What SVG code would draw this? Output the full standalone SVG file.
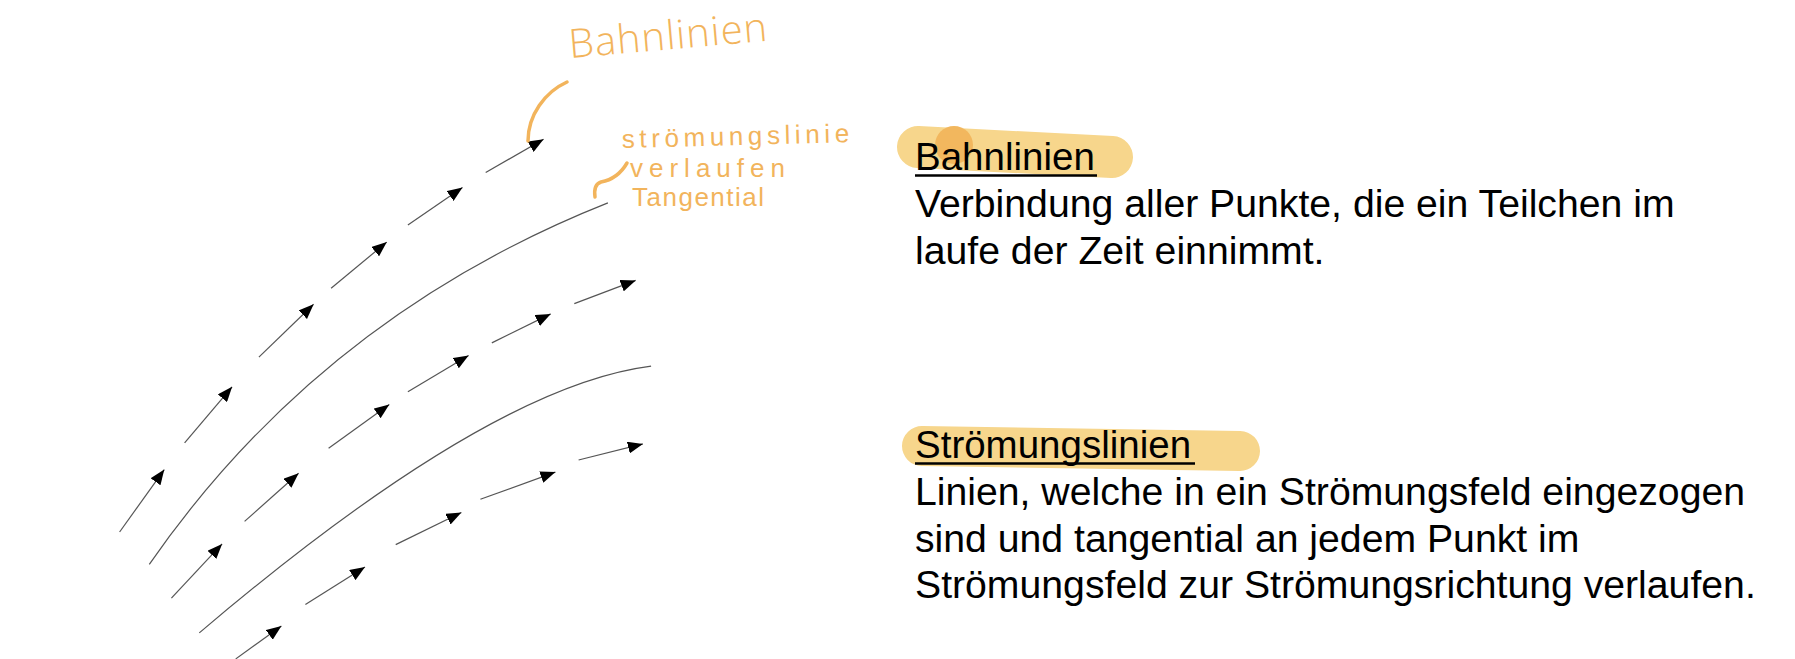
<svg xmlns="http://www.w3.org/2000/svg" width="1795" height="659" viewBox="0 0 1795 659">
  <defs>
    <marker id="ah" markerUnits="userSpaceOnUse" markerWidth="16" markerHeight="12" refX="15" refY="6" orient="auto">
      <path d="M0,0 L15,6 L0,12 z" fill="#000"/>
    </marker>
  </defs>
  <style>
    .arr { stroke: #555; stroke-width: 1.2; fill: none; marker-end: url(#ah); }
    .crv { stroke: #555; stroke-width: 1.2; fill: none; }
    .hand { font-family: "Open Sans", "DejaVu Sans", sans-serif; font-weight: 300; fill: #F2B45C; }
    .hand2 { font-family: "Liberation Sans", Arial, sans-serif; fill: #F2B45C; font-size: 26px; }
    .hstroke { stroke: #F2B45C; stroke-width: 3.5; fill: none; stroke-linecap: round; }
    .title { font-family: "Liberation Sans", Arial, sans-serif; font-size: 38.5px; fill: #000; }
    .body { font-family: "Liberation Sans", Arial, sans-serif; font-size: 39.2px; fill: #000; }
    .ul { stroke: #000; stroke-width: 2.5; }
    .hl { stroke: #F7D68C; stroke-linecap: round; fill: none; }
  </style>
  <rect width="1795" height="659" fill="#fff"/>

  <g id="connectors">
    <!-- Bahnlinien arrows (series 1) -->
    <line class="arr" x1="119.6" y1="532" x2="164.3" y2="469.6"/>
    <line class="arr" x1="184.6" y1="442.9" x2="232.1" y2="386.8"/>
    <line class="arr" x1="258.9" y1="357.1" x2="313.6" y2="304.3"/>
    <line class="arr" x1="331.1" y1="288.2" x2="386.8" y2="242.1"/>
    <line class="arr" x1="407.9" y1="225" x2="462.5" y2="187.5"/>
    <line class="arr" x1="485.7" y1="172.5" x2="543.6" y2="139.3"/>
    <!-- Streamline 1 -->
    <path class="crv" d="M149.3,564.3 Q321.5,316.5 607.9,202.9"/>
    <!-- series 2 -->
    <line class="arr" x1="171.4" y1="598.2" x2="222.1" y2="543.9"/>
    <line class="arr" x1="244.6" y1="521.4" x2="298.6" y2="473.2"/>
    <line class="arr" x1="328.6" y1="448.2" x2="389.3" y2="404.6"/>
    <line class="arr" x1="407.9" y1="391.8" x2="468.6" y2="355.4"/>
    <line class="arr" x1="491.8" y1="342.9" x2="550.7" y2="313.9"/>
    <line class="arr" x1="574.3" y1="303.6" x2="635.7" y2="280.4"/>
    <!-- Streamline 2 -->
    <path class="crv" d="M199.3,632.9 Q489,386.5 651.1,366.1"/>
    <!-- series 3 -->
    <line class="arr" x1="235.7" y1="658.9" x2="281.4" y2="626.1"/>
    <line class="arr" x1="305.4" y1="604.6" x2="365" y2="567.1"/>
    <line class="arr" x1="395.7" y1="544.6" x2="461.4" y2="512.5"/>
    <line class="arr" x1="480.4" y1="499.3" x2="555.4" y2="472.1"/>
    <line class="arr" x1="578.6" y1="460" x2="642.9" y2="443.9"/>
  </g>

  <g id="note-bahnlinien">
    <text class="hand" x="570" y="58" font-size="40" letter-spacing="1" transform="rotate(-5 570 58)">Bahnlinien</text>
    <path class="hstroke" d="M567,82 C545,92 528,115 528,141"/>
  </g>

  <g id="note-stroemungslinie">
    <text class="hand2" x="622" y="148" letter-spacing="4.6" transform="rotate(-1.5 622 148)">strömungslinie</text>
    <text class="hand2" x="630" y="177" letter-spacing="6">verlaufen</text>
    <text class="hand2" x="632" y="206" letter-spacing="1.5">Tangential</text>
    <path class="hstroke" d="M627,163 C620,175 612,180 601,182 C595,184 594,190 595,197"/>
  </g>

  <g id="bahnlinien">
    <path class="hl" stroke-width="42" d="M918,147 L1112,157"/>
    <circle cx="954" cy="145" r="19" fill="#F2B75E"/>
    <text class="title" x="915" y="170">Bahnlinien</text>
    <line class="ul" x1="915" y1="175.5" x2="1097" y2="175.5"/>
    <text class="body" x="915" y="217">Verbindung aller Punkte, die ein Teilchen im</text>
    <text class="body" x="915" y="264">laufe der Zeit einnimmt.</text>
  </g>

  <g id="stroemungslinien">
    <path class="hl" stroke-width="40" d="M922,446 L1240,451"/>
    <text class="title" x="915" y="458">Strömungslinien</text>
    <line class="ul" x1="915" y1="463.5" x2="1195" y2="463.5"/>
    <text class="body" x="915" y="505">Linien, welche in ein Strömungsfeld eingezogen</text>
    <text class="body" x="915" y="551.5">sind und tangential an jedem Punkt im</text>
    <text class="body" x="915" y="598">Strömungsfeld zur Strömungsrichtung verlaufen.</text>
  </g>
</svg>
